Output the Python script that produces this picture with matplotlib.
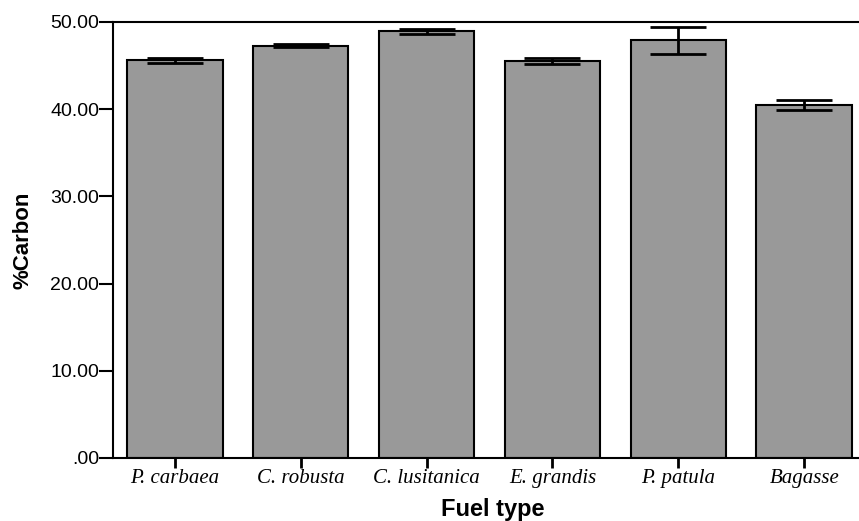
import matplotlib
matplotlib.use("Agg")
import matplotlib.pyplot as plt

fuels = ["P. carbaea", "C. robusta", "C. lusitanica", "E. grandis", "P. patula", "Bagasse"]
carbon = [45.6, 47.3, 48.95, 45.55, 47.9, 40.5]
carbon_err = [0.3, 0.22, 0.3, 0.33, 1.55, 0.6]
yticks = [0, 10, 20, 30, 40, 50]
ytick_labels = [".00", "10.00", "20.00", "30.00", "40.00", "50.00"]


def main():
    fig = plt.figure(figsize=(8.59, 5.21), dpi=100)
    ax = fig.add_axes([113 / 859, 1 - 458 / 521, 753 / 859, 436 / 521])

    x = range(len(fuels))
    ax.bar(x, carbon, width=0.76, color="#999999", edgecolor="black", linewidth=1.5, zorder=2)
    ax.errorbar(x, carbon, yerr=carbon_err, fmt="none", ecolor="black",
                elinewidth=2, capsize=20, capthick=2, zorder=3)

    ax.set_xlim(-0.49, 5.49)
    ax.set_ylim(0, 50)
    ax.set_yticks(yticks)
    ax.set_yticklabels(ytick_labels, fontsize=14, family="Liberation Sans")
    ax.set_xticks(list(x))
    ax.set_xticklabels(fuels, fontsize=15, family="Liberation Serif", style="italic")
    ax.tick_params(axis="y", direction="out", length=10, width=1.5, pad=0)
    ax.tick_params(axis="x", direction="out", length=7, width=2, pad=1)

    for s in ax.spines.values():
        s.set_linewidth(1.5)

    ax.set_ylabel("%Carbon", fontsize=16, fontweight="bold", family="Liberation Sans", labelpad=12)
    # x label placed by hand so it sits at the very bottom like the reference
    fig.text(493 / 859, 1 - 516 / 521, "Fuel type", fontsize=17, fontweight="bold",
             family="Liberation Sans", ha="center", va="baseline")

    fig.savefig("out.png", dpi=100)


if __name__ == "__main__":
    main()
